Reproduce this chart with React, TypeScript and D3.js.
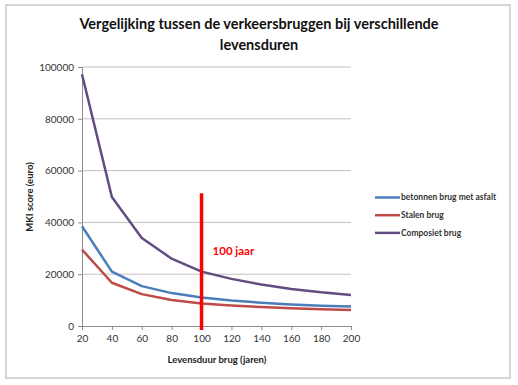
import {useEffect, useRef} from "react";
import * as d3 from "d3";

// levensduur categories (jaren)
const jaren = [20, 40, 60, 80, 100, 120, 140, 160, 180, 200];

// MKI score per series (euro)
const betonnen = [38500, 21000, 15400, 12700, 11000, 9800, 9000, 8300, 7800, 7500];
const stalen = [29500, 16700, 12300, 10000, 8700, 7900, 7300, 6900, 6500, 6200];
const composiet = [97200, 49800, 34000, 26000, 21000, 18200, 16000, 14300, 13000, 12000];

const seriesNames = ["betonnen brug met asfalt", "Stalen brug", "Composiet brug"];
const seriesColors = ["#4a7ebb", "#be4b48", "#634c80"];

const yTicks = [0, 20000, 40000, 60000, 80000, 100000];
const markerJaar = 100;
const markerTop = 51300;

function App() {
    const ref = useRef<SVGSVGElement>(null);

    const width = 518,
        height = 385;
    const plot = {left: 82, right: 351, top: 67, bottom: 326};

    useEffect(() => {
        const svg = d3.select(ref.current);
        svg.selectAll("*").remove();

        const font = "Lato, 'Open Sans', sans-serif";

        // chart frame
        svg.append("rect")
            .attr("x", 6).attr("y", 5)
            .attr("width", 504).attr("height", 373)
            .attr("fill", "#fff")
            .attr("stroke", "#c8c8c8")
            .attr("stroke-width", 1.5);

        const x = d3.scalePoint<number>()
            .domain(jaren)
            .range([plot.left, plot.right]);

        const y = d3.scaleLinear()
            .domain([0, 100000])
            .range([plot.bottom, plot.top]);

        // gridlines
        svg.append("g")
            .selectAll("line")
            .data(yTicks.slice(1))
            .enter()
            .append("line")
            .attr("x1", plot.left).attr("x2", plot.right)
            .attr("y1", d => y(d)).attr("y2", d => y(d))
            .attr("stroke", "#c0c0c0")
            .attr("stroke-width", 1);

        // y axis
        const yAxis = svg.append("g")
            .attr("transform", "translate(" + plot.left + ",0)")
            .call(d3.axisLeft(y).tickValues(yTicks).tickSize(4).tickPadding(4).tickFormat(d3.format("d")));
        yAxis.select(".domain").attr("stroke", "#8c8c8c");
        yAxis.selectAll(".tick line").attr("stroke", "#8c8c8c");
        yAxis.selectAll("text").attr("font-family", font).attr("font-size", 10).attr("fill", "#333");

        // x axis
        const xAxis = svg.append("g")
            .attr("transform", "translate(0," + plot.bottom + ")")
            .call(d3.axisBottom(x).tickSize(4).tickPadding(5));
        xAxis.select(".domain").attr("stroke", "#8c8c8c").attr("d", "M" + (plot.left - 4) + ",0.5H" + plot.right);
        xAxis.selectAll(".tick line").attr("stroke", "#8c8c8c");
        xAxis.selectAll("text").attr("font-family", font).attr("font-size", 10).attr("fill", "#333");

        // series lines
        const allSeries = [betonnen, stalen, composiet];
        const line = d3.line<number>()
            .x((d, i) => x(jaren[i]) as number)
            .y(d => y(d));

        svg.append("g")
            .selectAll("path")
            .data(allSeries)
            .enter()
            .append("path")
            .attr("d", d => line(d))
            .attr("fill", "none")
            .attr("stroke", (d, i) => seriesColors[i])
            .attr("stroke-width", 2.5)
            .attr("stroke-linejoin", "round");

        // 100 jaar marker
        svg.append("line")
            .attr("x1", x(markerJaar) as number).attr("x2", x(markerJaar) as number)
            .attr("y1", y(markerTop)).attr("y2", plot.bottom + 4)
            .attr("stroke", "#ff0000")
            .attr("stroke-width", 3.5);

        svg.append("text")
            .attr("x", (x(markerJaar) as number) + 11)
            .attr("y", 255)
            .attr("font-family", font)
            .attr("font-size", 11.5)
            .attr("font-weight", "bold")
            .attr("fill", "#ff0000")
            .text("100 jaar");

        // title
        svg.append("text")
            .attr("x", 259).attr("y", 29)
            .attr("text-anchor", "middle")
            .attr("font-family", font)
            .attr("font-size", 14.5)
            .attr("font-weight", "bold")
            .attr("fill", "#111")
            .text("Vergelijking tussen de verkeersbruggen bij verschillende");
        svg.append("text")
            .attr("x", 259).attr("y", 50)
            .attr("text-anchor", "middle")
            .attr("font-family", font)
            .attr("font-size", 14.5)
            .attr("font-weight", "bold")
            .attr("fill", "#111")
            .text("levensduren");

        // axis titles
        svg.append("text")
            .attr("transform", "translate(33,197) rotate(-90)")
            .attr("text-anchor", "middle")
            .attr("font-family", font)
            .attr("font-size", 9.5)
            .attr("font-weight", "bold")
            .attr("fill", "#222")
            .text("MKI score (euro)");

        svg.append("text")
            .attr("x", 217).attr("y", 363)
            .attr("text-anchor", "middle")
            .attr("font-family", font)
            .attr("font-size", 9.5)
            .attr("font-weight", "bold")
            .attr("fill", "#222")
            .text("Levensduur brug (jaren)");

        // legend
        const legend = svg.append("g")
            .selectAll("g")
            .data(seriesNames)
            .enter()
            .append("g")
            .attr("transform", (d, i) => "translate(375," + (197.5 + i * 17.7) + ")");
        legend.append("line")
            .attr("x1", 0).attr("x2", 25)
            .attr("stroke", (d, i) => seriesColors[i])
            .attr("stroke-width", 2.5);
        legend.append("text")
            .attr("x", 26).attr("dy", "0.35em")
            .attr("font-family", font)
            .attr("font-size", 8.5)
            .attr("font-weight", "bold")
            .attr("fill", "#333")
            .text(d => d);
    }, []);

    return (
        <svg ref={ref} width={width} height={height}
             style={{position: "absolute", left: 0, top: 0, background: "#fff"}}/>
    );
}

export default App;
